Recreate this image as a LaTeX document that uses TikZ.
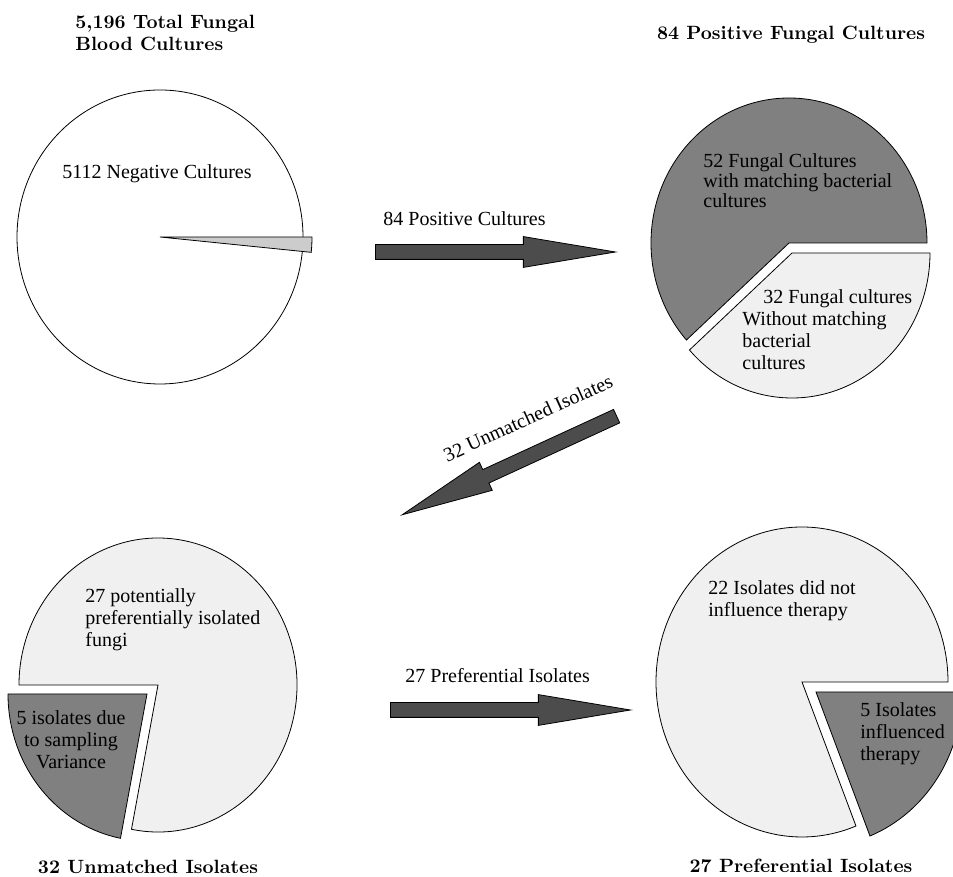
\documentclass[tikz,border=0pt]{standalone}
\usepackage{fontspec}
\newfontfamily\bodyfont{Liberation Serif}
\usetikzlibrary{shapes.arrows,positioning}
\newcommand{\pieslice}[6]{% centre, from, to, x radius, y radius, style
  \draw[#6] (#1) -- ++(#2:#4 and #5)
    arc[start angle=#2, end angle=#3, x radius=#4, y radius=#5] -- cycle;
}

\begin{document}
\begin{tikzpicture}[
    x=0.5pt, y=0.5pt,
    title/.style={font=\bfseries\fontsize{9.6}{11}\selectfont, inner sep=0pt},
    txt/.style={font=\bodyfont\fontsize{10}{11}\selectfont, inner sep=0pt, align=left},
    darkslice/.style={draw, fill=black!50},
    lightslice/.style={draw, fill=black!6},
    fatarrow/.style={single arrow, draw, fill=black!70, inner xsep=0pt, inner ysep=3.5pt,
      minimum width=15pt, single arrow head extend=4pt, single arrow tip angle=19,
      minimum height=120pt, anchor=tail}
]
\clip (0,0) rectangle (953,877);

% Centres
\coordinate (tl) at (160,640);
\coordinate (tr) at (789,634);
\coordinate (trx) at (792,624);
\coordinate (bl) at (158,192);
\coordinate (blx) at (147,183);
\coordinate (br) at (802,195);
\coordinate (brx) at (816,185);

% Pies
\draw[fill=white] (tl) ellipse [x radius=143, y radius=147];
\pieslice{tl}{0}{-5.8}{152}{152}{draw, fill=black!20}
\pieslice{tr}{0}{222}{138}{145}{darkslice}
\pieslice{trx}{222}{360}{138}{145}{lightslice}
\pieslice{bl}{-101}{180}{139}{147}{lightslice}
\pieslice{blx}{180}{259}{139}{147}{darkslice}
\pieslice{br}{0}{291.7}{146}{155}{lightslice}
\pieslice{brx}{-68.3}{0}{146}{155}{darkslice}

% Arrows
\node[fatarrow] (arr84) at (375,625) {};
\node[fatarrow, minimum height=118pt, rotate=204.7] (arr32) at (617,461) {};
\node[fatarrow] (arr27) at (390,167) {};

\node[txt, above right=13pt and 4pt of arr84.tail] (lab84) {84 Positive Cultures};
\node[txt, rotate=24.5] (lab32) at (528,459) {32 Unmatched Isolates};
\node[txt, above right=13.5pt and 7.5pt of arr27.tail] (lab27) {27 Preferential Isolates};

% Titles
\node[title, anchor=north west, align=left] (ttl) at (75,862) {5,196 Total Fungal\\Blood Cultures};
\node[title, anchor=base] (ttr) at (791,837) {84 Positive Fungal Cultures};
\node[title, anchor=base] (tbl) at (148,3) {32 Unmatched Isolates};
\node[title, anchor=base] (tbr) at (801,4) {27 Preferential Isolates};

% Slice texts
\node[txt] (neg) at (157,703) {5112 Negative Cultures};
\node[txt, anchor=north west, font=\bodyfont\fontsize{10}{10}\selectfont] (matched) at (703,724)
  {52 Fungal Cultures\\with matching bacterial\\cultures};
\node[txt, anchor=north west] (unmatched) at (742,588)
  {\hspace*{10.5pt}32 Fungal cultures\\Without matching\\bacterial\\cultures};
\node[txt, anchor=north west] (potential) at (85,289)
  {27 potentially\\preferentially isolated\\fungi};
\node[txt, align=center] (variance) at (71,137) {5 isolates due\\to sampling\\Variance};
\node[txt, anchor=north west] (noinfl) at (708,297) {22 Isolates did not\\influence therapy};
\node[txt, anchor=north west] (infl) at (860,175) {5 Isolates\\influenced\\therapy};

\end{tikzpicture}
\end{document}
